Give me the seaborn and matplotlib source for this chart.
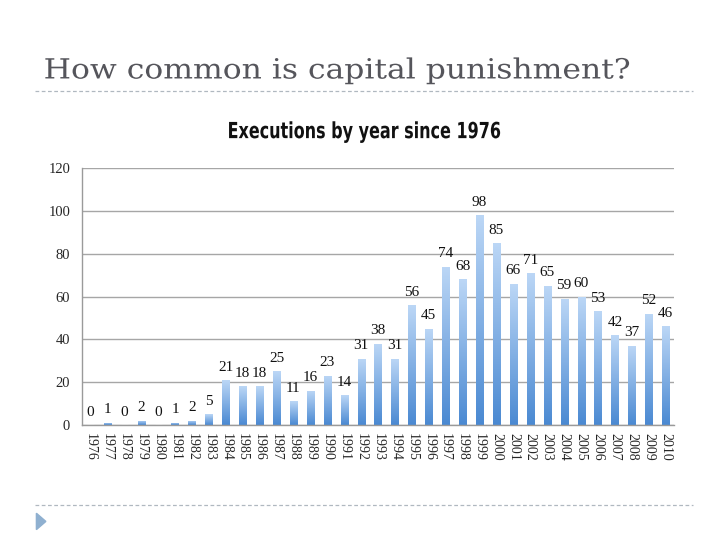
import numpy as np
import pandas as pd
import matplotlib
matplotlib.use("Agg")
import matplotlib.pyplot as plt
import seaborn as sns
from matplotlib.lines import Line2D
from matplotlib.patches import Polygon
from matplotlib.patheffects import AbstractPathEffect
from matplotlib.transforms import Affine2D

years = [str(y) for y in range(1976, 2011)]
executions = [0, 1, 0, 2, 0, 1, 2, 5, 21, 18, 18, 25, 11, 16, 23, 14, 31, 38, 31,
              56, 45, 74, 68, 98, 85, 66, 71, 65, 59, 60, 53, 42, 37, 52, 46]
y_ticks = [0, 20, 40, 60, 80, 100, 120]

df = pd.DataFrame({"year": years, "executions": executions})


class Condense(AbstractPathEffect):
    """squeeze glyphs horizontally around a fixed x (display px)"""
    def __init__(self, sx, cx):
        super().__init__()
        self.sx = sx
        self.cx = cx

    def draw_path(self, renderer, gc, tpath, affine, rgbFace=None):
        squeeze = Affine2D().translate(-self.cx, 0).scale(self.sx, 1).translate(self.cx, 0)
        renderer.draw_path(gc, tpath, affine + squeeze, rgbFace)


sns.set_style("white")
plt.rcParams["font.family"] = ["Liberation Serif", "DejaVu Serif"]

fig = plt.figure(figsize=(7.28, 5.46), dpi=100)
ax = fig.add_axes([0.1126, 0.2216, 0.8134, 0.4707])

sns.barplot(data=df, x="year", y="executions", color="#6fa5e2", width=0.42,
            ax=ax, saturation=1)

# gradient fill for each bar, light top -> darker bottom
grad = np.linspace(0, 1, 256).reshape(-1, 1)
cmap = matplotlib.colors.LinearSegmentedColormap.from_list(
    "bargrad", ["#4a89d2", "#bcd7f6"])
for bar in ax.patches:
    x0, y0 = bar.get_x(), bar.get_y()
    w, h = bar.get_width(), bar.get_height()
    if h <= 0:
        continue
    bar.set_facecolor("none")
    bar.set_edgecolor("none")
    im = ax.imshow(grad, cmap=cmap, aspect="auto", origin="lower",
                   extent=[x0, x0 + w, y0, y0 + h], zorder=2)
    im.set_clip_path(bar)

for i, v in enumerate(executions):
    ax.text(i, v + 3, str(v), ha="center", va="bottom", fontsize=11,
            color="#111111")

ax.set_xlim(-0.5, len(years) - 0.5)
ax.set_ylim(0, 120)
ax.set_yticks(y_ticks)
ax.yaxis.grid(True, color="#a6a6a6", linewidth=1)
ax.set_axisbelow(True)
ax.set_xlabel("")
ax.set_ylabel("")
for s in ["top", "right"]:
    ax.spines[s].set_visible(False)
for s in ["left", "bottom"]:
    ax.spines[s].set_color("#9a9a9a")
    ax.spines[s].set_linewidth(1)

ax.set_xticks(range(len(years)))
ax.set_xticklabels(years, rotation=-90, fontsize=10)
ax.tick_params(axis="x", length=0, pad=6)
ax.set_xticks(np.arange(-0.5, len(years), 1), minor=True)
ax.tick_params(axis="x", which="minor", length=5, color="#9a9a9a", direction="out")
ax.tick_params(axis="y", length=5, color="#9a9a9a", direction="out", labelsize=10.5)

# slide decorations
fig.text(0.060, 0.870, "How common is capital punishment?", fontsize=20,
         color="#55555b", ha="left", va="center",
         family=["DejaVu Serif"], path_effects=[Condense(1.13, 44)])
fig.add_artist(Line2D([0.048, 0.952], [0.833, 0.833], color="#b0b8c0",
                      linewidth=0.9, linestyle=(0, (3, 2))))
fig.text(0.5, 0.758, "Executions by year since 1976", fontsize=16,
         fontweight="bold", ha="center", va="center", color="#111111",
         family=["DejaVu Sans"], path_effects=[Condense(0.72, 366)])
fig.add_artist(Line2D([0.048, 0.952], [0.075, 0.075], color="#b0b8c0",
                      linewidth=0.9, linestyle=(0, (3, 2))))
fig.add_artist(Polygon([[0.050, 0.060], [0.050, 0.030], [0.063, 0.045]],
                       closed=True, color="#8fb0d0", transform=fig.transFigure))

fig.savefig("out.png", dpi=100)
